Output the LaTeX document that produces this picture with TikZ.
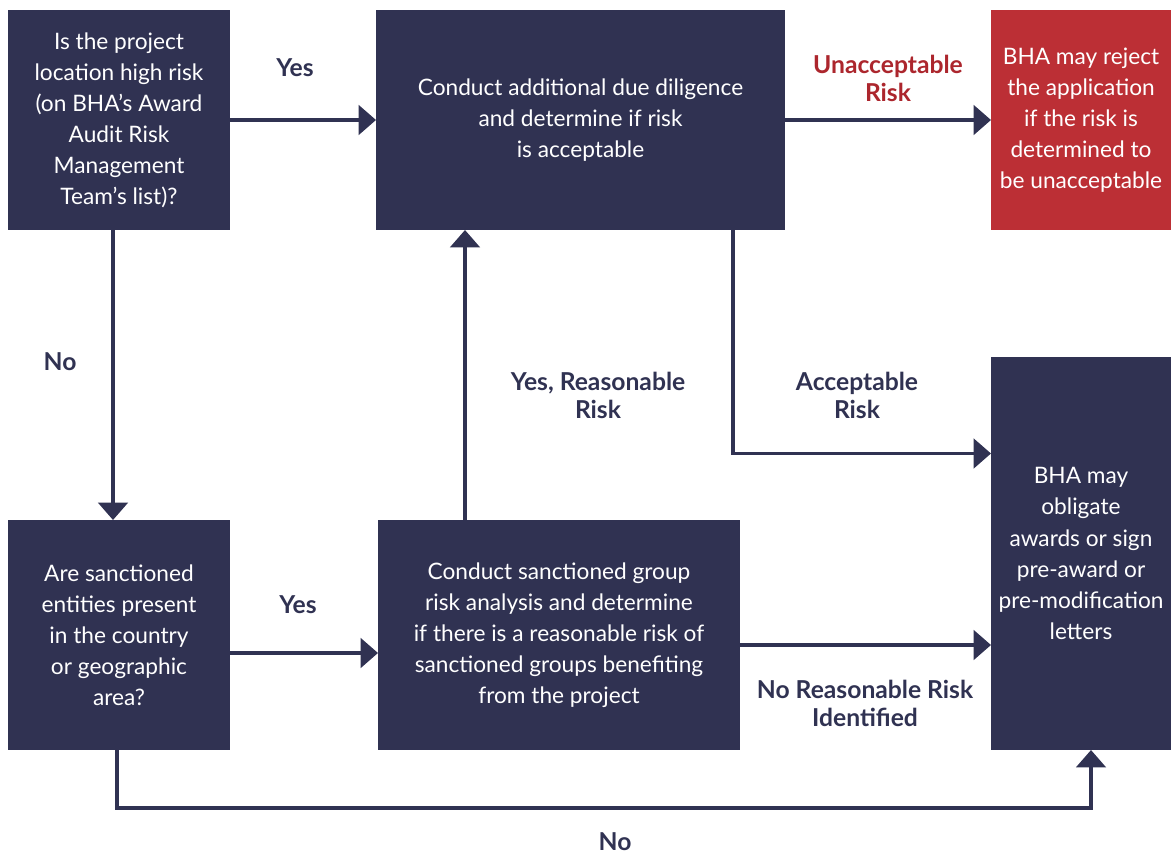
\documentclass[tikz,border=0pt]{standalone}
\usepackage{fontspec}
\setmainfont{Lato}
\usetikzlibrary{arrows.meta}
\definecolor{bhanavy}{RGB}{48,50,82}
\definecolor{bhared}{RGB}{188,47,53}
\definecolor{bhalabelred}{RGB}{172,38,45}
\begin{document}
\begin{tikzpicture}[x=0.75pt, y=-0.75pt,
  box/.style={fill=bhanavy, text=white, align=center, inner sep=0pt, outer sep=0pt,
    font=\fontsize{17}{23.3}\selectfont},
  flow/.style={draw=bhanavy, line width=2.6pt, -{Triangle[length=13pt,width=22pt]}},
  lab/.style={text=bhanavy, align=center, font=\fontsize{18.5}{21}\selectfont\bfseries}]

\useasboundingbox [fill=white] (0,0) rectangle (1171,857);

% boxes
\node [box, minimum width=166.5pt, minimum height=165pt] (highrisk) at (119,120)
  {Is the project\\ location high risk\\ (on BHA’s Award\\ Audit Risk\\ Management\\ Team’s list)?};
\node [box, minimum width=306.75pt, minimum height=165pt] (diligence) at (580.5,120)
  {Conduct additional due diligence\\ and determine if risk\\ is acceptable};
\node [box, fill=bhared, minimum width=135pt, minimum height=165pt] (reject) at (1081,120)
  {BHA may reject\\ the application\\ if the risk is\\ determined to\\ be unacceptable};
\node [box, minimum width=166.5pt, minimum height=172.5pt] (sanctioned) at (119,635)
  {Are sanctioned\\ entities present\\ in the country\\ or geographic\\ area?};
\node [box, minimum width=271.5pt, minimum height=172.5pt] (analysis) at (559,635)
  {Conduct sanctioned group\\ risk analysis and determine\\ if there is a reasonable risk of\\ sanctioned groups benefiting\\ from the project};
\node [box, minimum width=135pt, minimum height=294.75pt] (obligate) at (1081,553.5)
  {BHA may\\ obligate\\ awards or sign\\ pre-award or\\ pre-modification\\ letters};

% connectors
\draw [flow] ([xshift=-4.5pt]highrisk.east) -- (diligence);
\draw [flow] (diligence) -- (reject);
\draw [flow] ([xshift=-4.5pt]highrisk.south) -- ([xshift=-4.5pt]sanctioned.north);
\draw [flow] ([yshift=-13.5pt]sanctioned.east) -- ([yshift=-13.5pt]analysis.west);
\draw [flow] ([xshift=-70.5pt]analysis.north) -- ([xshift=-70.5pt]analysis.north |- diligence.south);
\draw [flow] ([xshift=114.4pt]diligence.south) |- ([yshift=75pt]obligate.west);
\draw [flow] ([yshift=-7.5pt]analysis.east) -- ([yshift=-7.5pt]analysis.east -| obligate.west);
\coordinate (nobend) at (117,808);
\draw [flow] ([xshift=-1.5pt]sanctioned.south) -- (nobend) -| ([xshift=7.5pt]obligate.south);

% labels
\node [lab] (yes1) at (295,68) {Yes};
\node [lab, text=bhalabelred] (unacc) at (888,78) {Unacceptable\\ Risk};
\node [lab] (no1) at (60,362) {No};
\node [lab] (yes2) at (298,605) {Yes};
\node [lab] (yesreas) at (598,395) {Yes, Reasonable\\ Risk};
\node [lab] (acc) at (857,395) {Acceptable\\ Risk};
\node [lab] (noreas) at (865,703) {No Reasonable Risk\\ Identified};
\node [lab] (no2) at (615,842) {No};

\end{tikzpicture}
\end{document}
